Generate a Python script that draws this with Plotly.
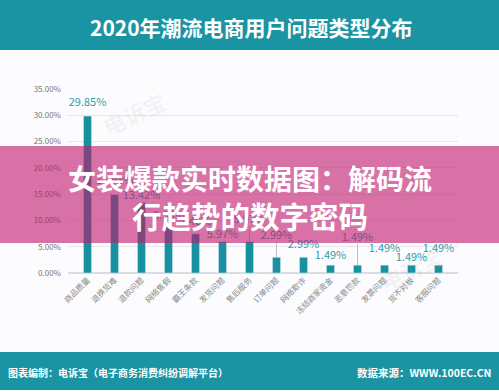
import plotly.graph_objects as go

categories = ["商品质量", "退换货难", "退款问题", "网络售假", "霸王条款", "发货问题", "售后服务",
              "订单问题", "网络欺诈", "冻结商家资金", "恶意罚款", "发票问题", "货不对板", "客服问题"]
values = [29.85, 14.93, 13.42, 8.96, 7.46, 5.97, 5.97, 2.99, 2.99, 1.49, 1.49, 1.49, 1.49, 1.49]
value_labels = ["29.85%", "14.93%", "13.42%", "8.96%", "7.46%", "5.97%", "5.97%",
                "2.99%", "2.99%", "1.49%", "1.49%", "1.49%", "1.49%", "1.49%"]
y_ticks = [0, 5, 10, 15, 20, 25, 30, 35]
y_tick_labels = ["0.00%", "5.00%", "10.00%", "15.00%", "20.00%", "25.00%", "30.00%", "35.00%"]

title_text = "2020年潮流电商用户问题类型分布"
banner_line1 = "女装爆款实时数据图：解码流"
banner_line2 = "行趋势的数字密码"
footer_left = "图表编制：电诉宝（电子商务消费纠纷调解平台）"
footer_right = "数据来源：WWW.100EC.CN"

# label offsets above bar tops (pixels) - styling
label_offsets = [13, 13, 6, 10, 12, 6, 21, 21, 12, 9, 27, 16, 7, 16]
leader = [False, False, False, False, False, False, True, True, False, False, True, False, False, False]

W, H = 499, 392
L, R, T, B = 68, 458, 89, 273
YMAX = 35
ppu = (B - T) / YMAX

def px(x):
    return (x - L) / (R - L)

def py(y):
    return (B - y) / (B - T)

TEAL = "#17919f"
FONT = "Noto Sans CJK SC"

fig = go.Figure()
fig.add_trace(go.Bar(x=categories, y=values, marker_color=TEAL, width=0.3,
                     hoverinfo="skip"))

label_y = [v + o / ppu for v, o in zip(values, label_offsets)]
fig.add_trace(go.Scatter(x=categories, y=label_y, mode="text", text=value_labels,
                         textposition="middle center",
                         textfont=dict(family=FONT, size=11, color="#2f9cab"),
                         hoverinfo="skip", cliponaxis=False))
for c, v, ly, ld in zip(categories, values, label_y, leader):
    if ld:
        fig.add_trace(go.Scatter(x=[c, c], y=[v, ly - 6 / ppu], mode="lines",
                                 line=dict(color="#b0b0b0", width=0.8), hoverinfo="skip"))

shapes = [
    dict(type="rect", xref="paper", yref="paper", x0=px(0), x1=px(W), y0=py(50), y1=py(0),
         fillcolor="#1a93a3", line=dict(width=0), layer="above"),
    dict(type="rect", xref="paper", yref="paper", x0=px(0), x1=px(W), y0=py(390), y1=py(352),
         fillcolor="#1a93a3", line=dict(width=0), layer="above"),
    dict(type="rect", xref="paper", yref="paper", x0=px(0), x1=px(W), y0=py(243), y1=py(146),
         fillcolor="rgba(192,22,106,0.6)", line=dict(width=0), layer="above"),
]

annotations = [
    dict(text=title_text, xref="paper", yref="paper", x=px(251), y=py(27), showarrow=False,
         font=dict(family=FONT, size=21, color="white", weight="bold"), xanchor="center", yanchor="middle"),
    dict(text=footer_left, xref="paper", yref="paper", x=px(6), y=py(372), showarrow=False,
         font=dict(family=FONT, size=10, color="white", weight="bold"), xanchor="left", yanchor="middle"),
    dict(text=footer_right, xref="paper", yref="paper", x=px(493), y=py(372), showarrow=False,
         font=dict(family=FONT, size=10.5, color="white", weight="bold"), xanchor="right", yanchor="middle"),
    dict(text=banner_line1, xref="paper", yref="paper", x=px(250), y=py(178), showarrow=False,
         font=dict(family=FONT, size=28, color="white", weight="bold"), xanchor="center", yanchor="middle"),
    dict(text=banner_line2, xref="paper", yref="paper", x=px(250), y=py(215), showarrow=False,
         font=dict(family=FONT, size=29.5, color="white", weight="bold"), xanchor="center", yanchor="middle"),
    dict(text="电诉宝", xref="paper", yref="paper", x=px(95), y=py(82), showarrow=False, textangle=-25,
         font=dict(family=FONT, size=22, color="rgba(150,150,150,0.10)", weight="bold")),
    dict(text="电诉宝", xref="paper", yref="paper", x=px(450), y=py(300), showarrow=False, textangle=-25,
         font=dict(family=FONT, size=22, color="rgba(150,150,150,0.10)", weight="bold")),
]

fig.update_layout(
    width=W, height=H,
    margin=dict(l=L, r=W - R, t=T, b=H - B, pad=0, autoexpand=False),
    paper_bgcolor="#fcfcfe", plot_bgcolor="#fcfcfe",
    showlegend=False, bargap=0.7,
    shapes=shapes, annotations=annotations,
    xaxis=dict(tickangle=-45, tickfont=dict(family=FONT, size=8, color="#888888"),
               showgrid=False, showline=False, ticks="", fixedrange=True, automargin=False),
    yaxis=dict(range=[0, YMAX], tickvals=y_ticks, ticktext=y_tick_labels,
               tickfont=dict(family=FONT, size=8, color="#777777"),
               showgrid=True, gridcolor="#e6e6ea", gridwidth=1, zeroline=True,
               zerolinecolor="#dcdce0", ticks="", ticklabelstandoff=6, automargin=False,
               fixedrange=True),
)

fig.write_html("out.html", config={"displayModeBar": False},
               post_script="document.body.style.margin='0';document.body.style.overflow='hidden';")
